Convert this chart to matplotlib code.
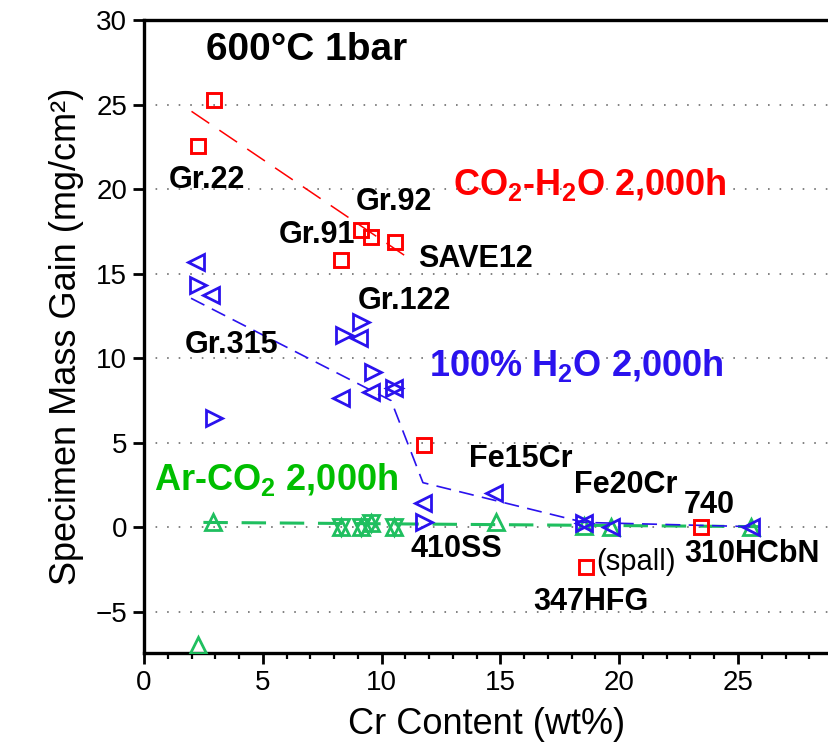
import matplotlib
matplotlib.use("Agg")
import matplotlib.pyplot as plt
from matplotlib.ticker import MultipleLocator

plt.rcParams['font.family'] = ['Liberation Sans', 'DejaVu Sans']
plt.rcParams['mathtext.fontset'] = 'custom'
plt.rcParams['mathtext.rm'] = 'Liberation Sans:bold'
plt.rcParams['mathtext.bf'] = 'Liberation Sans:bold'
plt.rcParams['mathtext.default'] = 'bf'

# CO2-H2O 2,000h (open squares)
co2_h2o_cr = [2.95, 2.27, 8.29, 9.13, 9.55, 10.56, 11.78, 18.6, 23.44]
co2_h2o_gain = [25.3, 22.55, 15.8, 17.6, 17.2, 16.9, 4.85, -2.35, 0.0]
co2_h2o_fit_cr = [2.0, 10.95]
co2_h2o_fit_gain = [24.6, 16.1]

# 100% H2O 2,000h (left / right pointing triangles, both = overlapped)
h2o_left_cr = [2.19, 2.82, 9.05, 9.55, 8.29, 11.74, 14.73, 19.65, 25.55]
h2o_left_gain = [15.7, 13.75, 11.2, 8.0, 7.65, 1.45, 2.05, 0.05, 0.05]
h2o_right_cr = [2.27, 8.42, 9.13, 9.64, 2.95, 11.78]
h2o_right_gain = [14.35, 11.4, 12.15, 9.2, 6.45, 0.35]
h2o_both_cr = [10.52, 18.52]
h2o_both_gain = [8.25, 0.25]
h2o_fit_cr = [1.98, 10.4, 11.74, 18.52, 25.55]
h2o_fit_gain = [13.55, 7.5, 2.65, 0.3, 0.05]

# Ar-CO2 2,000h (up triangles, both = up+down overlapped)
ar_co2_up_cr = [2.9, 2.27, 14.8, 18.52, 19.65, 25.55]
ar_co2_up_gain = [0.35, -6.95, 0.3, 0.1, 0.05, 0.0]
ar_co2_both_cr = [8.29, 9.13, 9.55, 10.52]
ar_co2_both_gain = [0.05, 0.05, 0.25, 0.05]
ar_co2_fit_cr = [2.5, 25.9]
ar_co2_fit_gain = [0.3, 0.05]

RED = '#FF0000'
BLUE = '#2A12EE'
GREEN_M = '#1FBF5F'
GREEN_T = '#00BE00'

fig = plt.figure(figsize=(8.29, 7.5), dpi=100)
ax = fig.add_axes([144 / 829, 97 / 750, 685 / 829, 633 / 750])

mk = dict(linestyle='none', mfc='none', ms=12, mew=2)

# Ar-CO2
ax.plot(ar_co2_fit_cr, ar_co2_fit_gain, color=GREEN_M, lw=2.2, dashes=(8, 4.5), zorder=2)
ax.plot(ar_co2_up_cr, ar_co2_up_gain, marker='^', color=GREEN_M, zorder=3, **mk)
ax.plot(ar_co2_both_cr, ar_co2_both_gain, marker='^', color=GREEN_M, zorder=3, **mk)
ax.plot(ar_co2_both_cr, ar_co2_both_gain, marker='v', color=GREEN_M, zorder=3, **mk)

# 100% H2O
ax.plot(h2o_fit_cr, h2o_fit_gain, color=BLUE, lw=1.2, dashes=(9, 5), zorder=4)
ax.plot(h2o_left_cr, h2o_left_gain, marker='<', color=BLUE, zorder=5, **mk)
ax.plot(h2o_right_cr, h2o_right_gain, marker='>', color=BLUE, zorder=5, **mk)
ax.plot(h2o_both_cr, h2o_both_gain, marker='<', color=BLUE, zorder=5, **mk)
ax.plot(h2o_both_cr, h2o_both_gain, marker='>', color=BLUE, zorder=5, **mk)

# CO2-H2O
ax.plot(co2_h2o_fit_cr, co2_h2o_fit_gain, color=RED, lw=1.1, dashes=(14, 8), zorder=6)
ax.plot(co2_h2o_cr, co2_h2o_gain, marker='s', color=RED, zorder=7,
        linestyle='none', mfc='none', ms=10.5, mew=2.1)

ax.set_xlim(0, 685 / 23.76)
ax.set_ylim(-7.42, 30)
ax.xaxis.set_minor_locator(MultipleLocator(1))
ax.yaxis.set_major_locator(MultipleLocator(5))
ax.set_xticks([0, 5, 10, 15, 20, 25])
ax.tick_params(axis='both', which='major', direction='out', length=8, width=2,
               labelsize=20, pad=4)
ax.tick_params(axis='x', which='minor', direction='out', length=4, width=1.6)
ax.spines['right'].set_visible(False)
for s in ['left', 'bottom', 'top']:
    ax.spines[s].set_linewidth(2.4)

ax.yaxis.grid(True, color='#777777', lw=1.3, linestyle=(0, (0.9, 5.5)))
ax.set_axisbelow(True)

ax.set_xlabel('Cr Content (wt%)', fontsize=26, labelpad=8)
ax.set_ylabel('Specimen Mass Gain (mg/cm²)', fontsize=26, labelpad=8)

ax.text(2.6, 27.65, '600°C 1bar', fontsize=28, fontweight='bold')

names = ['Gr.22', 'Gr.92', 'Gr.91', 'SAVE12', 'Gr.122', 'Gr.315', 'Fe15Cr',
         'Fe20Cr', '740', '410SS', '310HCbN', '347HFG']
name_pos = [(1.05, 20.07), (8.92, 18.78), (5.68, 16.82), (11.53, 15.4),
            (9.0, 12.92), (1.73, 10.32), (13.68, 3.58), (18.1, 2.04),
            (22.7, 0.86), (11.2, -1.74), (22.73, -2.04), (16.37, -4.88)]
for name, (x, y) in zip(names, name_pos):
    ax.text(x, y, name, fontsize=22, fontweight='bold', zorder=8)
ax.text(19.02, -2.54, '(spall)', fontsize=21, zorder=8)

ax.text(13.0, 19.66, 'CO$_2$-H$_2$O 2,000h', fontsize=26, fontweight='bold', color=RED)
ax.text(12.0, 8.96, '100% H$_2$O 2,000h', fontsize=26, fontweight='bold', color=BLUE)
ax.text(0.42, 2.22, 'Ar-CO$_2$ 2,000h', fontsize=26, fontweight='bold', color=GREEN_T)

fig.savefig('out.png', dpi=100)
